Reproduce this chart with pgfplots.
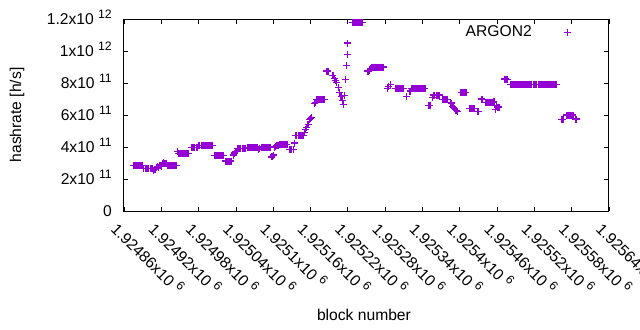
\documentclass[border=0pt]{standalone}
\usepackage{fontspec}
\setmainfont{Liberation Sans}
\usepackage{pgfplots}
\usepackage{pgfplotstable}
\pgfplotsset{compat=1.18}
\definecolor{gpviolet}{HTML}{9400D3}
\newcommand{\fnt}{\fontsize{15.7}{18}\selectfont}
\newcommand{\sups}[1]{\hspace{0.28em}\raisebox{0.38em}{\fontsize{12.3}{12}\selectfont #1}}
% block number minus 1924860, hashrate in h/s
\pgfplotstableread[row sep=\\]{
db h\\
16 2.85e11\\ 18 2.85e11\\ 20 2.85e11\\ 22 2.85e11\\ 24 2.85e11\\ 26 2.85e11\\ 28 2.85e11\\ 30 2.85e11\\
32 2.67e11\\ 34 2.67e11\\ 36 2.67e11\\ 38 2.67e11\\ 40 2.67e11\\ 42 2.67e11\\ 44 2.67e11\\ 46 2.67e11\\
48 2.55e11\\ 50 2.6e11\\ 52 2.72e11\\ 54 2.78e11\\ 56 2.75e11\\
58 2.85e11\\ 60 2.8e11\\ 62 2.95e11\\ 64 3.02e11\\ 66 3.0e11\\ 68 3.0e11\\
70 2.85e11\\ 72 2.85e11\\ 74 2.85e11\\ 76 2.85e11\\ 78 2.85e11\\ 80 2.85e11\\ 82 2.85e11\\ 84 2.85e11\\
86 3.7e11\\ 88 3.6e11\\ 90 3.6e11\\ 92 3.6e11\\ 94 3.6e11\\ 96 3.6e11\\ 98 3.6e11\\ 100 3.6e11\\ 102 3.6e11\\ 104 3.6e11\\
108 3.95e11\\ 110 3.95e11\\ 112 3.95e11\\ 114 3.95e11\\ 116 3.95e11\\ 118 3.95e11\\
120 4.1e11\\ 122 4.1e11\\ 124 4.1e11\\ 126 4.1e11\\ 128 4.1e11\\ 130 4.1e11\\ 132 4.1e11\\ 134 4.1e11\\ 136 4.1e11\\ 138 4.1e11\\ 140 4.1e11\\ 142 4.1e11\\
146 3.48e11\\ 148 3.48e11\\ 150 3.48e11\\ 152 3.48e11\\ 154 3.48e11\\ 156 3.48e11\\ 158 3.48e11\\ 160 3.48e11\\
164 3.12e11\\ 166 3.12e11\\ 168 3.12e11\\ 170 3.12e11\\ 172 3.12e11\\
176 3.5e11\\ 178 3.62e11\\ 180 3.72e11\\
182 3.92e11\\ 184 3.92e11\\ 186 3.92e11\\ 188 3.92e11\\ 190 3.92e11\\ 192 3.92e11\\ 194 3.92e11\\ 196 3.92e11\\
198 3.96e11\\ 200 3.96e11\\ 202 3.96e11\\ 204 3.96e11\\ 206 3.96e11\\ 208 3.96e11\\ 210 3.96e11\\ 212 3.96e11\\ 214 3.96e11\\ 216 3.85e11\\ 218 3.88e11\\
222 4.0e11\\ 224 4.0e11\\ 226 4.0e11\\ 228 4.0e11\\ 230 4.0e11\\ 232 4.0e11\\ 234 4.0e11\\ 236 4.0e11\\
238 3.38e11\\ 240 3.5e11\\
242 4.0e11\\ 244 4.05e11\\ 246 4.08e11\\ 248 4.1e11\\
250 4.18e11\\ 252 4.18e11\\ 254 4.18e11\\ 256 4.18e11\\ 258 4.18e11\\ 260 4.18e11\\ 262 4.18e11\\
266 3.85e11\\ 268 3.85e11\\ 270 3.85e11\\ 272 3.85e11\\
274 4.25e11\\
276 4.7e11\\ 278 4.7e11\\ 280 4.7e11\\ 282 4.7e11\\ 284 4.7e11\\ 286 4.7e11\\ 288 4.7e11\\
290 4.9e11\\ 292 5.1e11\\ 294 5.2e11\\ 296 5.4e11\\
298 5.7e11\\ 300 5.8e11\\ 302 5.85e11\\
306 6.7e11\\ 308 6.8e11\\ 310 6.95e11\\ 312 6.95e11\\ 314 6.95e11\\ 316 6.95e11\\ 318 6.95e11\\ 320 6.95e11\\ 322 6.95e11\\
326 8.75e11\\ 328 8.75e11\\
336 8.45e11\\ 338 8.3e11\\ 340 8.15e11\\ 342 8.05e11\\
345 7.7e11\\ 347 7.4e11\\ 349 7.15e11\\ 351 6.9e11\\ 353 6.65e11\\ 355 7.2e11\\ 356 8.2e11\\ 358 9.1e11\\ 359 9.8e11\\ 360 10.5e11\\
367 11.8e11\\ 369 11.8e11\\ 371 11.8e11\\ 373 11.8e11\\ 375 11.8e11\\ 377 11.8e11\\ 379 11.8e11\\ 381 11.8e11\\ 383 11.8e11\\
391 8.75e11\\ 393 8.75e11\\ 395 8.8e11\\ 397 8.9e11\\
399 9.0e11\\ 401 9.0e11\\ 403 9.0e11\\ 405 9.0e11\\ 407 9.0e11\\ 409 9.0e11\\ 411 9.0e11\\ 413 9.0e11\\ 415 9.0e11\\ 417 9.0e11\\
424 7.65e11\\ 426 7.8e11\\ 428 7.9e11\\
436 7.67e11\\ 438 7.67e11\\ 440 7.67e11\\ 442 7.67e11\\ 444 7.67e11\\ 446 7.67e11\\ 448 7.67e11\\ 450 7.67e11\\
454 7.15e11\\
460 7.5e11\\ 462 7.67e11\\ 464 7.67e11\\ 466 7.67e11\\ 468 7.67e11\\ 470 7.67e11\\ 472 7.67e11\\ 474 7.67e11\\ 476 7.67e11\\ 478 7.67e11\\ 480 7.67e11\\ 482 7.67e11\\ 484 7.67e11\\
490 6.6e11\\ 492 6.6e11\\
496 7.1e11\\ 498 7.25e11\\ 500 7.25e11\\ 502 7.25e11\\ 504 7.25e11\\ 506 7.25e11\\ 508 7.25e11\\
512 6.95e11\\ 514 6.95e11\\ 516 6.95e11\\ 518 6.95e11\\ 520 6.95e11\\
526 6.75e11\\ 528 6.55e11\\ 530 6.45e11\\ 532 6.4e11\\ 534 6.3e11\\ 536 6.2e11\\
542 7.42e11\\ 544 7.42e11\\ 546 7.42e11\\ 548 7.42e11\\ 550 7.42e11\\
556 6.42e11\\ 558 6.42e11\\ 560 6.42e11\\ 562 6.42e11\\ 564 6.42e11\\
568 6.2e11\\ 570 6.2e11\\
575 7.0e11\\ 577 6.95e11\\
581 6.8e11\\ 583 6.8e11\\ 585 6.8e11\\ 587 6.8e11\\ 589 6.8e11\\ 591 6.8e11\\ 593 6.8e11\\
595 6.85e11\\ 597 6.35e11\\ 599 6.6e11\\ 601 6.5e11\\ 603 6.5e11\\
612 8.25e11\\ 614 8.25e11\\ 616 8.2e11\\
622 7.92e11\\ 624 7.92e11\\ 626 7.92e11\\ 628 7.92e11\\ 630 7.92e11\\ 632 7.92e11\\ 634 7.92e11\\ 636 7.92e11\\ 638 7.92e11\\ 640 7.92e11\\
642 7.92e11\\ 644 7.92e11\\ 646 7.92e11\\ 648 7.92e11\\ 650 7.92e11\\ 652 7.92e11\\ 654 7.92e11\\ 656 7.92e11\\ 658 7.92e11\\ 660 7.92e11\\
662 7.92e11\\ 664 7.92e11\\ 666 7.92e11\\ 668 7.92e11\\ 670 7.92e11\\ 672 7.92e11\\ 674 7.92e11\\ 676 7.92e11\\ 678 7.92e11\\ 680 7.92e11\\
682 7.92e11\\ 684 7.92e11\\ 686 7.92e11\\ 688 7.92e11\\ 690 7.92e11\\ 692 7.92e11\\ 694 7.92e11\\ 696 7.92e11\\
704 5.72e11\\ 706 5.72e11\\
712 6.0e11\\ 714 6.0e11\\ 716 6.0e11\\ 718 6.0e11\\ 720 6.0e11\\ 722 6.0e11\\
726 5.75e11\\ 728 5.75e11\\
}\argon
\begin{document}
\begin{tikzpicture}
\useasboundingbox (-124bp,-119bp) rectangle (516bp,211bp);
\clip (-124bp,-119bp) rectangle (516bp,211bp);
\begin{axis}[
  at={(0,0)}, anchor=south west,
  width=485bp, height=192bp, scale only axis,
  xmin=0, xmax=780, ymin=0, ymax=1.2e12,
  clip=false,
  axis line style={line width=1bp},
  every tick/.style={black, line width=0.8bp},
  major tick length=4.5bp,
  tick align=inside,
  xtick={0,60,...,780},
  xticklabels={1.92486x10\sups{6},1.92492x10\sups{6},1.92498x10\sups{6},1.92504x10\sups{6},1.9251x10\sups{6},1.92516x10\sups{6},1.92522x10\sups{6},1.92528x10\sups{6},1.92534x10\sups{6},1.9254x10\sups{6},1.92546x10\sups{6},1.92552x10\sups{6},1.92558x10\sups{6},1.92564x10\sups{6}},
  ytick={0,2e11,4e11,6e11,8e11,1e12,1.2e12},
  yticklabels={0,2x10\sups{11},4x10\sups{11},6x10\sups{11},8x10\sups{11},1x10\sups{12},1.2x10\sups{12}},
  scaled y ticks=false, scaled x ticks=false,
  xticklabel style={font=\fnt, rotate=-45, anchor=north west, inner sep=0pt, xshift=3.5bp, yshift=-8.5bp},
  yticklabel style={font=\fnt, anchor=base east, inner sep=0pt, xshift=-12bp, yshift=-5.5bp},
  xlabel={block number},
  ylabel={hashrate [h/s]},
  every axis x label/.style={at={(axis description cs:0.4948,-0.5417)}, anchor=center, font=\fnt},
  every axis y label/.style={at={(axis description cs:-0.2206,0.5)}, rotate=90, anchor=center, font=\fnt},
  legend style={draw=none, fill=none, font=\fnt, at={(axis description cs:0.928,0.985)}, anchor=north east},
  legend plot pos=right,
  legend cell align=right,
  legend image code/.code={\path (0bp,0bp); \draw[#1, only marks] plot coordinates {(33bp,0bp)};},
]
\addplot[only marks, mark=+, mark size=3.5bp, line width=1.2bp, color=gpviolet] table[x=db, y=h] {\argon};
\addlegendentry{ARGON2}
\end{axis}
\end{tikzpicture}
\end{document}
